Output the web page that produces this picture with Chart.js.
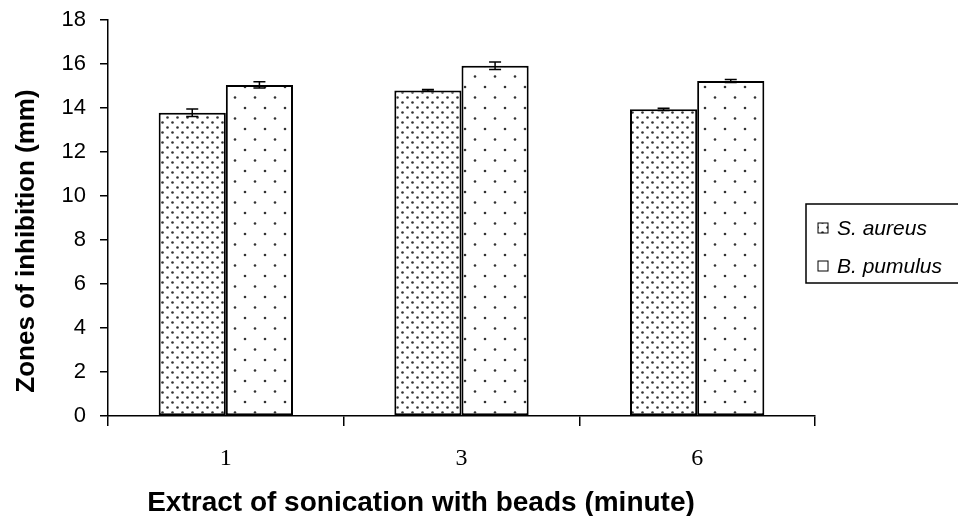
<!DOCTYPE html>
<html>
<head>
<meta charset="utf-8">
<script src="https://cdn.jsdelivr.net/npm/chart.js@4/dist/chart.umd.min.js"></script>
<style>
  html, body { margin: 0; padding: 0; background: #fff; }
  #wrap { width: 958px; height: 516px; position: relative; }
</style>
</head>
<body>
<div id="wrap"><canvas id="chart"></canvas></div>
<script>
// Data
const categories = ['1', '3', '6']
const seriesNames = ['S. aureus', 'B. pumulus']
const sAureus = [13.78, 14.8, 13.94]
const sAureusErr = [0.17, 0.04, 0.05]
const bPumulus = [15.05, 15.92, 15.23]
const bPumulusErr = [0.14, 0.17, 0.07]
const yTicks = [0, 2, 4, 6, 8, 10, 12, 14, 16, 18]
const xTitle = 'Extract of sonication with beads (minute)'
const yTitle = 'Zones of inhibition (mm)'

// Dotted fill patterns
function makePattern(w, h, dots, r) {
    const c = document.createElement('canvas')
    c.width = w
    c.height = h
    const g = c.getContext('2d')
    g.fillStyle = '#fff'
    g.fillRect(0, 0, w, h)
    g.fillStyle = '#333'
    dots.forEach(d => {
        g.beginPath()
        g.arc(d[0], d[1], r, 0, Math.PI * 2)
        g.fill()
    })
    return g.createPattern(c, 'repeat')
}
const ctx = document.getElementById('chart').getContext('2d')
const densePattern = makePattern(10, 10, [[2.5, 2.5], [7.5, 7.5]], 1.3)
const sparsePattern = makePattern(20, 21, [[5, 3], [15, 13.5]], 1.3)

// Error bars drawn on top of the bars
const errorBars = {
    id: 'errorBars',
    afterDatasetsDraw(chart) {
        const g = chart.ctx
        const yScale = chart.scales.y
        g.save()
        g.strokeStyle = '#000'
        g.lineWidth = 1.5
        chart.data.datasets.forEach((ds, di) => {
            const meta = chart.getDatasetMeta(di)
            meta.data.forEach((bar, i) => {
                const v = ds.data[i]
                const e = ds.errors[i]
                const yTop = yScale.getPixelForValue(v + e)
                const yBot = yScale.getPixelForValue(v - e)
                g.beginPath()
                g.moveTo(bar.x, yTop); g.lineTo(bar.x, yBot)
                g.moveTo(bar.x - 6, yTop); g.lineTo(bar.x + 6, yTop)
                g.moveTo(bar.x - 6, yBot); g.lineTo(bar.x + 6, yBot)
                g.stroke()
            })
        })
        g.restore()
    }
}

// Axis titles, placed like the original (slightly off the plot centre)
const axisTitles = {
    id: 'axisTitles',
    afterDraw(chart) {
        const g = chart.ctx
        g.save()
        g.fillStyle = '#000'
        g.font = 'bold 28px "Liberation Sans", Arial, sans-serif'
        g.textAlign = 'center'
        g.textBaseline = 'alphabetic'
        g.fillText(xTitle, 421, 511)
        g.translate(34, 241)
        g.rotate(-Math.PI / 2)
        g.font = 'bold 26px "Liberation Sans", Arial, sans-serif'
        g.fillText(yTitle, 0, 0)
        g.restore()
    }
}

// Boxed legend on the right
const boxedLegend = {
    id: 'boxedLegend',
    afterDraw(chart) {
        const g = chart.ctx
        const x0 = 806, y0 = 204, w = 160, h = 79
        g.save()
        g.fillStyle = '#fff'
        g.fillRect(x0, y0, w, h)
        g.strokeStyle = '#000'
        g.lineWidth = 1.5
        g.strokeRect(x0, y0, w, h)
        g.font = 'italic 21px "Liberation Sans", Arial, sans-serif'
        g.textBaseline = 'middle'
        chart.data.datasets.forEach((ds, i) => {
            const cy = y0 + 24 + i * 38
            g.fillStyle = ds.backgroundColor
            g.fillRect(x0 + 12, cy - 5, 10, 10)
            g.lineWidth = 1
            g.strokeRect(x0 + 12, cy - 5, 10, 10)
            g.fillStyle = '#000'
            g.fillText(ds.label, x0 + 31, cy + 1)
        })
        g.restore()
    }
}

new Chart(ctx, {
    type: 'bar',
    data: {
        labels: categories,
        datasets: [
            {
                label: seriesNames[0],
                data: sAureus,
                errors: sAureusErr,
                backgroundColor: densePattern,
                borderColor: '#000',
                borderWidth: 2,
                borderSkipped: false
            },
            {
                label: seriesNames[1],
                data: bPumulus,
                errors: bPumulusErr,
                backgroundColor: sparsePattern,
                borderColor: '#000',
                borderWidth: 2,
                borderSkipped: false
            }
        ]
    },
    options: {
        responsive: true,
        maintainAspectRatio: false,
        animation: false,
        layout: { padding: { top: 20, right: 143, bottom: 0, left: 0 } },
        datasets: { bar: { categoryPercentage: 0.57, barPercentage: 1.0 } },
        plugins: {
            legend: { display: false },
            tooltip: { enabled: false }
        },
        scales: {
            x: {
                offset: true,
                border: { color: '#000', width: 1.5 },
                grid: {
                    offset: true,
                    drawOnChartArea: false,
                    drawTicks: true,
                    tickLength: 10,
                    color: '#000',
                    lineWidth: 1.5
                },
                ticks: {
                    color: '#000',
                    padding: 18,
                    font: { family: '"Liberation Serif", "Times New Roman", serif', size: 24 }
                },
                afterFit(scale) {
                    scale.height = 100
                    scale.paddingLeft = 0
                    scale.paddingRight = 0
                }
            },
            y: {
                min: 0,
                max: 18,
                border: { color: '#000', width: 1.5 },
                afterBuildTicks(scale) { scale.ticks = yTicks.map(v => ({ value: v })) },
                grid: {
                    drawOnChartArea: false,
                    drawTicks: true,
                    tickLength: 8,
                    color: '#000',
                    lineWidth: 1.5
                },
                ticks: {
                    color: '#000',
                    padding: 14,
                    font: { family: '"Liberation Sans", Arial, sans-serif', size: 22, lineHeight: 1 }
                },
                afterFit(scale) {
                    scale.width = 108
                    scale.paddingTop = 0
                    scale.paddingBottom = 0
                }
            }
        }
    },
    plugins: [errorBars, axisTitles, boxedLegend]
})
</script>
</body>
</html>
